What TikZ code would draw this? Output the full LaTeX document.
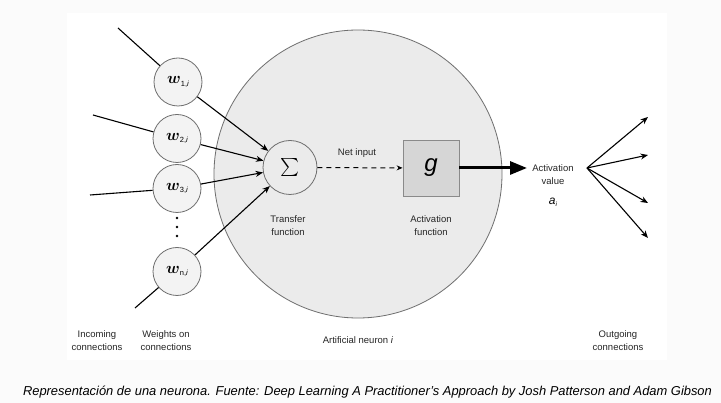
\documentclass[tikz,border=0pt]{standalone}
\usepackage{fontspec}
\usepackage{graphicx}
\setmainfont{Liberation Sans}
\usetikzlibrary{arrows.meta}
\definecolor{bggray}{HTML}{FBFBFB}
\definecolor{neuronfill}{HTML}{EBEBEB}
\definecolor{edgegray}{HTML}{6E6E6E}
\definecolor{boxfill}{HTML}{D6D6D6}
\definecolor{boxedge}{HTML}{8A8A8A}
\definecolor{wfill}{HTML}{F3F3F3}
\tikzset{
  wire/.style={black, line width=1.1pt},
  arr/.style={wire, -{Stealth[length=7.5pt,width=6pt]}},
  weightnode/.style={circle, draw=edgegray, fill=wfill, line width=0.8pt, minimum size=48pt, inner sep=0pt},
  lbl/.style={align=center, font=\fontsize{9.5}{13}\selectfont, text=black!85},
}
\newcommand{\wlab}[1]{\scalebox{1.6}{\boldmath$w$}\raisebox{-0.5ex}{\fontsize{7.5}{7.5}\selectfont #1,\textit{i}}}
\begin{document}
\begin{tikzpicture}[x=1pt,y=-1pt]
\fill[bggray] (0,0) rectangle (721,403);
\fill[white] (67,13) rectangle (667,360);
\useasboundingbox (0,0) rectangle (721,403);

% big neuron
\node[circle, draw=edgegray, fill=neuronfill, line width=0.8pt, minimum size=288pt, inner sep=0pt] (neuron) at (358,174) {};

% weights
\node[weightnode] (w1) at (178,82) {\wlab{1}};
\node[weightnode] (w2) at (177,138.5) {\wlab{2}};
\node[weightnode] (w3) at (177,188.5) {\wlab{3}};
\node[weightnode] (wn) at (177,271.5) {\wlab{n}};
\fill[black] (177,218) circle (1.3pt) (177,227) circle (1.3pt) (177,236) circle (1.3pt);

% sum
\node[circle, draw=edgegray, fill=neuronfill, line width=0.8pt, minimum size=54pt, inner sep=0pt] (sig) at (290,167.5) {\scalebox{1.8}{$\sum$}};

% activation box
\node[rectangle, draw=boxedge, fill=boxfill, line width=0.8pt, minimum size=56pt, inner sep=0pt] (gbox) at (431,168) {\fontsize{24}{24}\selectfont\itshape g};

% incoming
\coordinate (in1) at (118,28);
\coordinate (in2) at (93,115);
\coordinate (in3) at (90,195);
\coordinate (in4) at (135,308);
\draw[wire] (in1) -- (w1);
\draw[wire] (in2) -- (w2);
\draw[wire] (in3) -- (w3);
\draw[wire] (in4) -- (wn);

% weights to sum
\draw[arr] (w1) -- (sig);
\draw[arr] (w2) -- (sig);
\draw[arr] (w3) -- (sig);
\draw[arr] (wn) -- (sig);

% net input
\draw[wire, line width=1pt, dash pattern=on 5pt off 4pt, -{Stealth[length=6pt,width=5pt]}] (sig) -- (gbox);
\node[lbl] (netin) at (357,153) {Net input};

% labels inside neuron
\node[lbl] (tf) at (288,226) {Transfer\\function};
\node[lbl] (af) at (431,226) {Activation\\function};

% output
\coordinate (tip) at (527,168);
\draw[line width=3pt, -{Triangle[length=17pt,width=13pt]}] (gbox) -- (tip);
\node[lbl] (av) at (553,175) {Activation\\value};
\node[inner sep=0pt] (ai) at (553,202) {\fontsize{12}{12}\selectfont\textit{a}\raisebox{-0.3ex}{\fontsize{6.5}{6.5}\selectfont\textit{i}}};

% outgoing
\coordinate (src) at (587,168);
\coordinate (o1) at (648,117);
\coordinate (o2) at (648,155);
\coordinate (o3) at (648,203);
\coordinate (o4) at (648,238);
\draw[arr] (src) -- (o1);
\draw[arr] (src) -- (o2);
\draw[arr] (src) -- (o3);
\draw[arr] (src) -- (o4);

% bottom labels
\node[lbl] (inc) at (97,341) {Incoming\\connections};
\node[lbl] (won) at (166,341) {Weights on\\connections};
\node[lbl] (an) at (358,340) {Artificial neuron \textit{i}};
\node[lbl] (outc) at (618,341) {Outgoing\\connections};

% caption
\node[inner sep=0pt] (cap) at (367.5,392) {\fontsize{12.9}{15}\selectfont\itshape Representación de una neurona. Fuente: Deep Learning A Practitioner’s Approach by Josh Patterson and Adam Gibson};
\end{tikzpicture}
\end{document}
